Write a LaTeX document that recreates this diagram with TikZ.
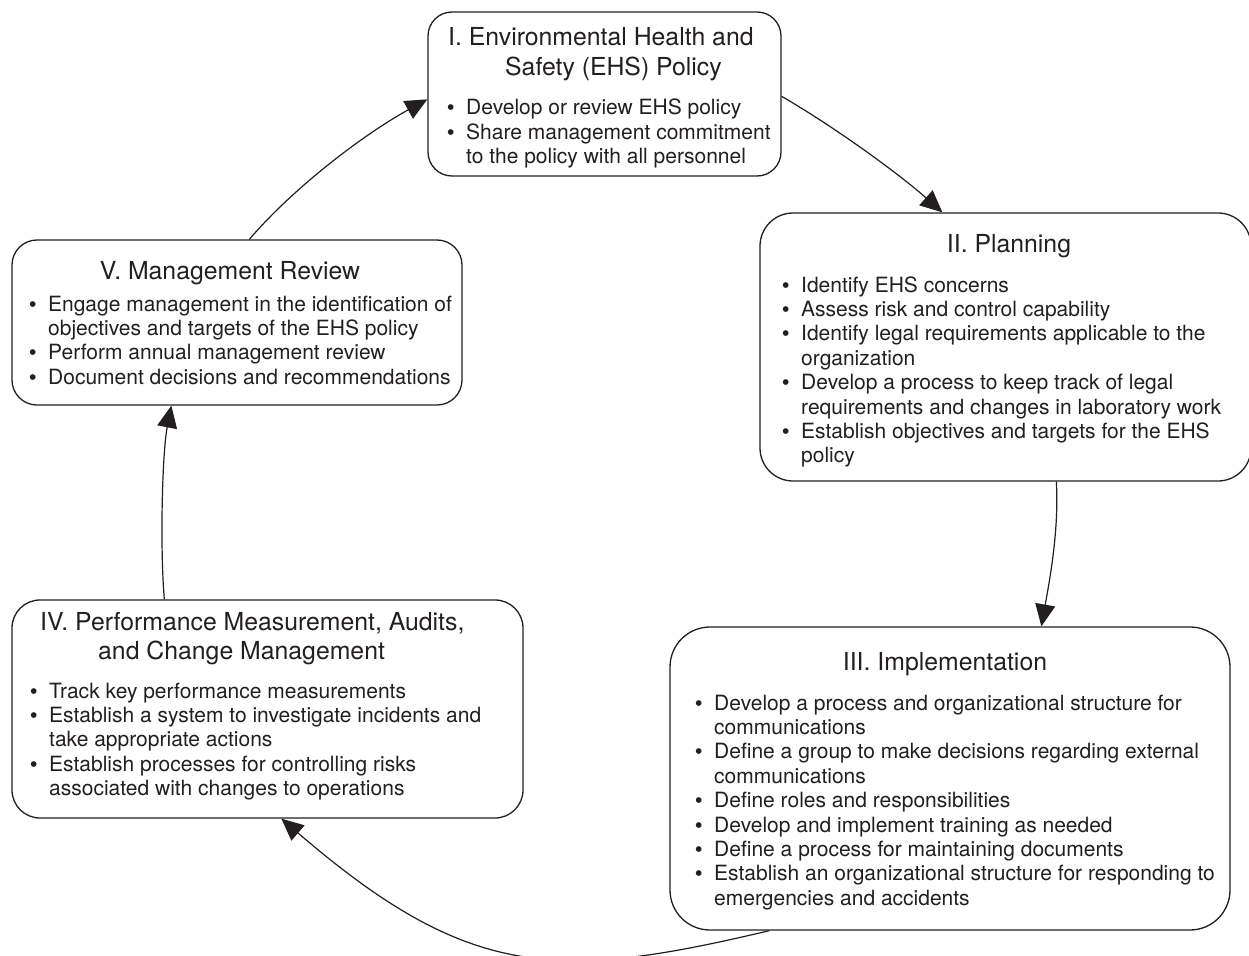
\documentclass[tikz,border=0pt]{standalone}
\usepackage{fontspec}
\setmainfont{TeX Gyre Heros}
\newfontfamily\bulfont{Liberation Sans}
\usetikzlibrary{arrows.meta,calc}
\definecolor{ink}{RGB}{35,31,32}
\newcommand\bl[1]{\makebox[19pt][l]{\bulfont\textbullet}#1}
\newcommand\cl[1]{\hspace*{19pt}#1}
\newcommand\bodyfont{\fontsize{21}{24.4}\selectfont}
\newcommand\titlefont{\fontsize{24.8}{29.5}\selectfont}
\begin{document}
\begin{tikzpicture}[x=1pt,y=-1pt,
  box/.style={draw=ink, line width=1.3pt, fill=white, inner sep=0pt},
  ttl/.style={inner sep=0pt, text=ink, font=\titlefont},
  body/.style={inner sep=0pt, text=ink, anchor=base west, font=\bodyfont},
  conn/.style={draw=ink, line width=1.2pt, -{Triangle[length=22pt,width=20pt]}}]
\path[use as bounding box, clip] (0,0) rectangle (1249,955);
\fill[white] (0,0) rectangle (1249,955);

% boxes
\node[box, rounded corners=24pt, minimum width=353pt, minimum height=164pt] (bI) at (604.5,94) {};
\node[box, rounded corners=33pt, minimum width=491pt, minimum height=268pt] (bII) at (1005.5,347) {};
\node[box, rounded corners=40pt, minimum width=560pt, minimum height=303pt] (bIII) at (950,778.5) {};
\node[box, rounded corners=28pt, minimum width=511pt, minimum height=218pt] (bIV) at (267.5,709) {};
\node[box, rounded corners=25pt, minimum width=450pt, minimum height=165pt] (bV) at (237,322.5) {};

% titles
\node[ttl, anchor=base west] (tI) at (448,46) {\parbox[t]{400pt}{\titlefont I. Environmental Health and\\\hspace*{57pt}Safety (EHS) Policy}};
\node[ttl, anchor=base] (tII) at (1009,252) {II. Planning};
\node[ttl, anchor=base] (tIII) at (945,670) {III. Implementation};
\node[ttl, anchor=base west] (tIV) at (40,630) {\parbox[t]{500pt}{\titlefont IV. Performance Measurement, Audits,\\\hspace*{58pt}and Change Management}};
\node[ttl, anchor=base] (tV) at (230,279) {V. Management Review};

% bodies
\node[body] (pI) at (447,115) {\parbox[t]{400pt}{\bodyfont\raggedright
\bl{Develop or review EHS policy}\\
\bl{Share management commitment}\\
\cl{to the policy with all personnel}}};
\node[body] (pII) at (782,292) {\parbox[t]{470pt}{\bodyfont\raggedright
\bl{Identify EHS concerns}\\
\bl{Assess risk and control capability}\\
\bl{Identify legal requirements applicable to the}\\
\cl{organization}\\
\bl{Develop a process to keep track of legal}\\
\cl{requirements and changes in laboratory work}\\
\bl{Establish objectives and targets for the EHS}\\
\cl{policy}}};
\node[body] (pIII) at (695,710) {\parbox[t]{540pt}{\bodyfont\raggedright
\bl{Develop a process and organizational structure for}\\
\cl{communications}\\
\bl{Define a group to make decisions regarding external}\\
\cl{communications}\\
\bl{Define roles and responsibilities}\\
\bl{Develop and implement training as needed}\\
\bl{Define a process for maintaining documents}\\
\bl{Establish an organizational structure for responding to}\\
\cl{emergencies and accidents}}};
\node[body] (pIV) at (30,698) {\parbox[t]{490pt}{\bodyfont\raggedright
\bl{Track key performance measurements}\\
\bl{Establish a system to investigate incidents and}\\
\cl{take appropriate actions}\\
\bl{Establish processes for controlling risks}\\
\cl{associated with changes to operations}}};
\node[body] (pV) at (29,311) {\parbox[t]{440pt}{\bodyfont\raggedright
\bl{Engage management in the identification of}\\
\cl{objectives and targets of the EHS policy}\\
\bl{Perform annual management review}\\
\bl{Document decisions and recommendations}}};

% connectors
\draw[conn] ($(bV.north west)+(238,0)$) .. controls (295,186) and (366,133) .. ($(bI.north west)+(0,88)$);
\draw[conn] ($(bI.north east)+(0,85)$) .. controls (833,126) and (898,173) .. ($(bII.north west)+(183,0)$);
\draw[conn] ($(bII.south west)+(297,0)$) .. controls (1059,530) and (1050,578) .. ($(bIII.north west)+(372,0)$);
\draw[conn] ($(bIII.south west)+(100,0)$) .. controls (557,981) and (469,980) .. ($(bIV.south west)+(270,0)$);
\draw[conn] ($(bIV.north west)+(153,0)$) .. controls (160,550) and (162,454) .. ($(bV.south west)+(160,0)$);
\end{tikzpicture}
\end{document}
